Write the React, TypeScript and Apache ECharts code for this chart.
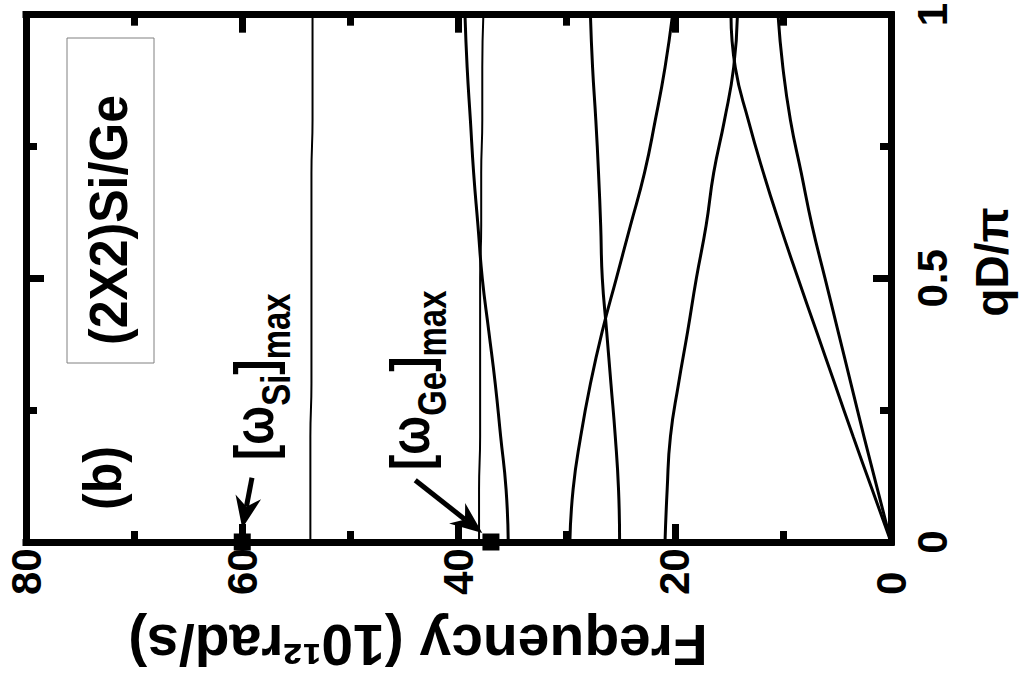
import React, { useEffect, useRef } from 'react';
import * as echarts from 'echarts';

// ---- data (frequency in 10^12 rad/s vs reduced wave vector qD/pi) ----
const qValues = [0, 0.1, 0.2, 0.3, 0.4, 0.5, 0.6, 0.7, 0.8, 0.9, 1.0];
const siOptical = [53.7, 53.7, 53.7, 53.6, 53.6, 53.6, 53.6, 53.6, 53.5, 53.5, 53.5];
const geFlat = [38.1, 38.1, 38.0, 38.0, 38.0, 38.0, 37.9, 37.9, 37.8, 37.8, 37.7];
const branchA = [35.4, 35.6, 36.1, 36.6, 37.2, 37.8, 38.2, 38.6, 38.9, 39.2, 39.4];
const branchC = [25.1, 25.2, 25.5, 25.9, 26.3, 26.7, 26.85, 27.05, 27.3, 27.6, 27.8];
const branchD = [29.7, 29.4, 28.7, 27.8, 26.7, 25.4, 24.1, 22.8, 21.8, 20.9, 20.2];
const branchH = [20.9, 20.7, 20.4, 19.65, 18.8, 18.0, 17.1, 16.4, 15.4, 14.55, 14.2];
const branchG = [0, 1.75, 3.5, 5.2, 6.9, 8.6, 10.25, 11.8, 13.2, 14.4, 14.8];
const branchI = [0, 1.25, 2.5, 3.7, 4.9, 6.1, 7.3, 8.3, 9.3, 10.0, 10.45];

// [omega]max markers (frequency, q)
const maxMarkers = [
  [60, 0],
  [37, 0],
];
// arrows pointing at the markers: tail -> tip (frequency, q)
const arrowFrom = [
  [59.1, 0.122],
  [44.0, 0.117],
];
const arrowTo = [
  [60.0, 0.026],
  [37.8, 0.017],
];

// axes
const freqMin = 0;
const freqMax = 80;
const freqStep = 20;
const qMin = 0;
const qMax = 1;
const qStep = 0.5;

const FONT = '"Liberation Sans", Arial, Helvetica, sans-serif';

const toPoints = (vals: number[]) => vals.map((f, i) => [f, qValues[i]]);

const lineSeries = (name: string, vals: number[], width: number) => ({
  type: 'line',
  name,
  data: toPoints(vals),
  showSymbol: false,
  symbol: 'none',
  smooth: true,
  silent: true,
  lineStyle: { color: '#000', width },
  z: 3,
});

const tickCommon = {
  axisLine: { show: true, onZero: false, lineStyle: { color: '#000', width: 7, cap: 'square' } },
  axisTick: { show: true, inside: true, length: 18, lineStyle: { color: '#000', width: 7 } },
  minorTick: { show: true, splitNumber: 2, length: 11, lineStyle: { color: '#000', width: 7 } },
  splitLine: { show: false },
  minorSplitLine: { show: false },
};

const labelFont = { fontSize: 42, fontWeight: 'bold', fontFamily: FONT, color: '#000' };

const annotation = (x: number, y: number, sub: string) => ({
  type: 'text',
  x,
  y,
  rotation: Math.PI / 2,
  scaleY: 1.22,
  z: 10,
  style: {
    text: `{m|[ω}{s|${sub}}{m|]}{s|max}`,
    align: 'left',
    verticalAlign: 'top',
    rich: {
      m: { fontSize: 46, fontWeight: 'bold', fontFamily: FONT, fill: '#000', lineHeight: 44, verticalAlign: 'top' },
      s: { fontSize: 33, fontWeight: 'bold', fontFamily: FONT, fill: '#000', lineHeight: 82, verticalAlign: 'middle' },
    },
  },
});

const arrowData = arrowFrom.map((f, i) => [f[0], f[1], arrowTo[i][0], arrowTo[i][1]]);

const renderArrow = (params: any, api: any) => {
  const p0 = api.coord([api.value(0), api.value(1)]);
  const p1 = api.coord([api.value(2), api.value(3)]);
  const dx = p1[0] - p0[0];
  const dy = p1[1] - p0[1];
  const len = Math.sqrt(dx * dx + dy * dy) || 1;
  const ux = dx / len;
  const uy = dy / len;
  const nx = -uy;
  const ny = ux;
  const headLen = 32;
  const half = 13;
  const notch = 10;
  const bx = p1[0] - ux * headLen;
  const by = p1[1] - uy * headLen;
  const kx = p1[0] - ux * (headLen - notch);
  const ky = p1[1] - uy * (headLen - notch);
  return {
    type: 'group',
    children: [
      {
        type: 'line',
        shape: { x1: p0[0], y1: p0[1], x2: kx, y2: ky },
        style: { stroke: '#000', lineWidth: 5 },
      },
      {
        type: 'polygon',
        shape: { points: [[p1[0], p1[1]], [bx + nx * half, by + ny * half], [kx, ky], [bx - nx * half, by - ny * half]] },
        style: { fill: '#000' },
      },
    ],
  };
};

const option = {
  animation: false,
  backgroundColor: '#fff',
  grid: { left: 26, right: 130, top: 10, bottom: 152, containLabel: false },
  xAxis: [
    {
      type: 'value', gridIndex: 0, min: freqMin, max: freqMax, interval: freqStep, inverse: true, position: 'bottom',
      ...tickCommon,
      axisLabel: { show: true, rotate: 90, margin: 53, align: 'left', verticalAlign: 'middle', ...labelFont },
    },
    {
      type: 'value', gridIndex: 0, min: freqMin, max: freqMax, interval: freqStep, inverse: true, position: 'top',
      ...tickCommon,
      axisLabel: { show: false },
    },
  ],
  yAxis: [
    {
      type: 'value', gridIndex: 0, min: qMin, max: qMax, interval: qStep, position: 'right',
      ...tickCommon,
      axisLabel: { show: true, rotate: 90, margin: 20, align: 'center', verticalAlign: 'top', ...labelFont },
    },
    {
      type: 'value', gridIndex: 0, min: qMin, max: qMax, interval: qStep, position: 'left',
      ...tickCommon,
      axisLabel: { show: false },
    },
  ],
  series: [
    lineSeries('Si optical', siOptical, 2),
    lineSeries('Ge flat', geFlat, 2),
    lineSeries('A', branchA, 3),
    lineSeries('C', branchC, 3),
    lineSeries('D', branchD, 3),
    lineSeries('H', branchH, 3),
    lineSeries('G', branchG, 3),
    lineSeries('I', branchI, 3),
    {
      type: 'scatter',
      name: 'max',
      data: maxMarkers,
      symbol: 'rect',
      symbolSize: 17,
      clip: false,
      silent: true,
      itemStyle: { color: '#000', opacity: 1 },
      z: 6,
    },
    {
      type: 'custom',
      name: 'arrows',
      data: arrowData,
      renderItem: renderArrow,
      clip: false,
      silent: true,
      encode: { x: [0, 2], y: [1, 3] },
      z: 7,
    },
  ],
  graphic: [
    {
      type: 'rect',
      shape: { x: 67, y: 38, width: 87, height: 325 },
      style: { fill: 'none', stroke: '#808080', lineWidth: 1 },
      z: 5,
    },
    {
      type: 'text', x: 108, y: 220, rotation: Math.PI / 2, scaleY: 1.08, z: 10,
      style: { text: '(2X2)Si/Ge', fontSize: 50, fontWeight: 'bold', fontFamily: FONT, fill: '#000', align: 'center', verticalAlign: 'middle' },
    },
    {
      type: 'text', x: 102, y: 478, rotation: Math.PI / 2, scaleY: 1.08, z: 10,
      style: { text: '(b)', fontSize: 50, fontWeight: 'bold', fontFamily: FONT, fill: '#000', align: 'center', verticalAlign: 'middle' },
    },
    annotation(226, 460, 'Si'),
    annotation(382, 470, 'Ge'),
    {
      type: 'text', x: 418, y: 645, rotation: Math.PI, z: 10,
      style: { text: 'Frequency (10¹²rad/s)', fontSize: 57, fontWeight: 'bold', fontFamily: FONT, fill: '#000', align: 'center', verticalAlign: 'middle' },
    },
    {
      type: 'text', x: 992, y: 262, rotation: Math.PI / 2, z: 10,
      style: { text: 'qD/π', fontSize: 46, fontWeight: 'bold', fontFamily: FONT, fill: '#000', align: 'center', verticalAlign: 'middle' },
    },
  ],
};

export default function App() {
  const ref = useRef<HTMLDivElement>(null);
  useEffect(() => {
    const chart = echarts.init(ref.current as HTMLDivElement, null, { renderer: 'svg' });
    chart.setOption(option as any);
    return () => chart.dispose();
  }, []);
  return (
    <div
      ref={ref}
      style={{ position: 'absolute', left: 0, top: 0, width: 1021, height: 694, background: '#fff' }}
    />
  );
}
